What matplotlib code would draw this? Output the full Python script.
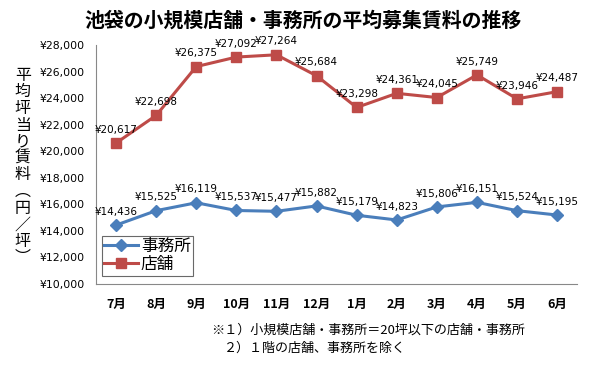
import matplotlib
matplotlib.use('Agg')
import matplotlib.pyplot as plt
from matplotlib.ticker import FuncFormatter

plt.rcParams['font.family'] = ['Noto Sans CJK JP', 'DejaVu Sans']

# データ
months = ['7月', '8月', '9月', '10月', '11月', '12月', '1月', '2月', '3月', '4月', '5月', '6月']
office = [14436, 15525, 16119, 15537, 15477, 15882, 15179, 14823, 15806, 16151, 15524, 15195]
shop = [20617, 22698, 26375, 27092, 27264, 25684, 23298, 24361, 24045, 25749, 23946, 24487]

blue = '#4A7EBB'
red = '#BE4B48'

fig = plt.figure(figsize=(6, 3.66), dpi=100)
ax = fig.add_axes([0.16, 0.224, 0.802, 0.653])

x = list(range(len(months)))
ax.plot(x, office, color=blue, lw=2.2, marker='D', ms=6, label='事務所')
ax.plot(x, shop, color=red, lw=2.2, marker='s', ms=7, label='店舗')

# データラベル
for xs, ys in [(x, office), (x, shop)]:
    for i, v in zip(xs, ys):
        ax.annotate('¥{:,}'.format(v), (i, v), xytext=(0, 6), textcoords='offset points',
                    ha='center', va='bottom', fontsize=7.5, family=['DejaVu Sans'])

ax.set_xlim(-0.5, 11.5)
ax.set_ylim(10000, 28000)
ax.set_yticks(range(10000, 28001, 2000))
ax.yaxis.set_major_formatter(FuncFormatter(lambda v, p: '¥{:,}'.format(int(v))))
ax.set_xticks(x)
ax.set_xticklabels(months, fontsize=9, fontweight='bold')
for lab in ax.get_yticklabels():
    lab.set_fontsize(7.8)
    lab.set_family(['DejaVu Sans'])
ax.tick_params(length=0)
ax.tick_params(axis='y', pad=8)
ax.tick_params(axis='x', pad=10)

for s in ['top', 'right']:
    ax.spines[s].set_visible(False)
for s in ['left', 'bottom']:
    ax.spines[s].set_color('#888888')
    ax.spines[s].set_linewidth(0.8)

leg = ax.legend(loc='lower left', bbox_to_anchor=(0.012, 0.035), fontsize=12, frameon=True,
                fancybox=False, handlelength=2.0, borderpad=0.15, labelspacing=0.05,
                handletextpad=0.2, borderaxespad=0)
leg.get_frame().set_edgecolor('#444444')
leg.get_frame().set_linewidth(0.8)

fig.text(0.505, 0.945, '池袋の小規模店舗・事務所の平均募集賃料の推移', ha='center', va='center',
         fontsize=14.3, fontweight='bold')

ylabel = '平均坪当り賃料︵円／坪︶'
fig.text(0.038, 0.545, '\n'.join(ylabel), ha='center', va='center', fontsize=11.5,
         linespacing=0.97)

fig.text(0.352, 0.098, '※１）小規模店舗・事務所＝20坪以下の店舗・事務所', ha='left', va='center', fontsize=9.4)
fig.text(0.374, 0.049, '２）１階の店舗、事務所を除く', ha='left', va='center', fontsize=9.4)

fig.savefig('out.png', dpi=100)
